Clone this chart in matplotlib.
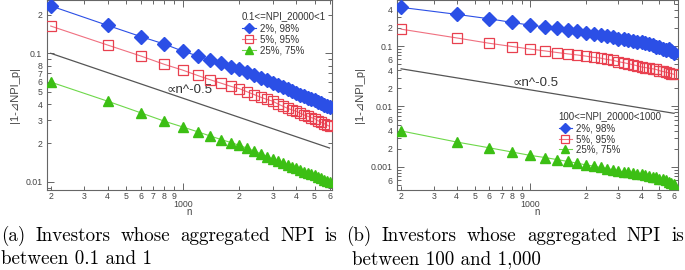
import numpy as np
import matplotlib
matplotlib.use("Agg")
import matplotlib.pyplot as plt
from matplotlib.ticker import FixedLocator, FuncFormatter

# ---------------- data ----------------
n_values = [200, 400, 600, 800, 1000, 1200, 1400, 1600, 1800, 2000,
            2200, 2400, 2600, 2800, 3000, 3200, 3400, 3600, 3800, 4000,
            4200, 4400, 4600, 4800, 5000, 5200, 5400, 5600, 5800, 6000]

left_blue = [0.234, 0.165, 0.135, 0.118, 0.104, 0.0955, 0.0887, 0.0833, 0.0788, 0.075,
             0.0709, 0.0673, 0.0643, 0.0615, 0.059, 0.0566, 0.0544, 0.0524, 0.0506, 0.049,
             0.0476, 0.0463, 0.0451, 0.044, 0.043, 0.0419, 0.0408, 0.0398, 0.0389, 0.038]
left_red = [0.163, 0.116, 0.0953, 0.082, 0.074, 0.0672, 0.0622, 0.0585, 0.0553, 0.053,
            0.0501, 0.0476, 0.0454, 0.0437, 0.0424, 0.0403, 0.0387, 0.0373, 0.0362, 0.0354,
            0.0341, 0.0331, 0.0323, 0.0316, 0.031, 0.0299, 0.0291, 0.0284, 0.0277, 0.027]
left_green = [0.0597, 0.0424, 0.0344, 0.0296, 0.0267, 0.0245, 0.0227, 0.0213, 0.0202, 0.0192,
              0.0182, 0.0173, 0.0165, 0.0157, 0.0150, 0.0145, 0.0139, 0.0134, 0.0131, 0.0128,
              0.0123, 0.0120, 0.0117, 0.0115, 0.01135, 0.0109, 0.0106, 0.0103, 0.0101, 0.0099]

right_blue = [0.436, 0.334, 0.282, 0.245, 0.221, 0.207, 0.196, 0.186, 0.176, 0.167,
              0.160, 0.153, 0.146, 0.139, 0.133, 0.129, 0.125, 0.122, 0.118, 0.115,
              0.111, 0.107, 0.102, 0.098, 0.095, 0.090, 0.087, 0.089, 0.083, 0.078]
right_red = [0.19, 0.136, 0.111, 0.098, 0.089, 0.083, 0.078, 0.074, 0.071, 0.068,
             0.065, 0.063, 0.060, 0.058, 0.055, 0.053, 0.051, 0.049, 0.047, 0.045,
             0.044, 0.043, 0.042, 0.041, 0.039, 0.038, 0.037, 0.036, 0.035, 0.034]
right_green = [0.00394, 0.00258, 0.00207, 0.00176, 0.00155, 0.00143, 0.00132, 0.00123, 0.00115, 0.00108,
               0.00103, 0.00098, 0.00094, 0.00090, 0.00086, 0.00083, 0.00081, 0.00079, 0.00077, 0.00075,
               0.00073, 0.00071, 0.00069, 0.00067, 0.00064, 0.00062, 0.00060, 0.00057, 0.00055, 0.00052]

ref_n = [200, 6000]
left_ref = [0.1, 0.0183]
right_ref = [0.042, 0.0077]

series_labels = ["2%, 98%", "5%, 95%", "25%, 75%"]
left_title = "0.1<=NPI_20000<1"
right_title = "100<=NPI_20000<1000"
ylabel_text = "|1-\u22bfNPI_p|"
xlabel_text = "n"
slope_text = "\u221dn^-0.5"
caption_a = ["(a) Investors whose aggregated NPI is", "between 0.1 and 1"]
caption_b = ["(b) Investors whose aggregated NPI is", "between 100 and 1,000"]

# ---------------- style ----------------
W, H = 685, 270
fig = plt.figure(figsize=(W / 100, H / 100), dpi=100)
SANS = ["Liberation Sans", "DejaVu Sans"]
TICKC = "#444444"
SPINEC = "#666666"
BLUE = "#2b4fe6"
RED = "#e8404f"
GREEN = "#3cbf14"


def px_axes(l, t, r, b):
    return fig.add_axes([l / W, 1 - b / H, (r - l) / W, (b - t) / H])


def minor_fmt(allowed):
    def f(v, pos):
        if v <= 0:
            return ""
        e = np.floor(np.log10(v) + 1e-9)
        m = int(round(v / 10 ** e))
        return str(m) if m in allowed else ""
    return FuncFormatter(f)


def setup(ax, xlim, ylim, ymajor, ylabels, yminor_allowed, title, lx, ly, slope_pos,
          blue, red, green, ref):
    ax.set_xscale("log")
    ax.set_yscale("log")
    ax.plot(ref_n, ref, color="#555555", lw=0.9, zorder=2)
    ax.plot(n_values, blue, color=BLUE, lw=0.8, marker="D", ms=7.0, mec=BLUE, mfc=BLUE,
            label=series_labels[0], zorder=5)
    ax.plot(n_values, red, color="#f07080", lw=0.8, marker="s", ms=7.0, mec=RED, mfc="none",
            mew=0.9, label=series_labels[1], zorder=4)
    ax.plot(n_values, green, color="#6ed84a", lw=0.8, marker="^", ms=7.3, mec=GREEN, mfc=GREEN,
            label=series_labels[2], zorder=3)
    ax.set_xlim(*xlim)
    ax.set_ylim(*ylim)

    # x ticks
    ax.xaxis.set_major_locator(FixedLocator([1000]))
    ax.xaxis.set_major_formatter(FuncFormatter(lambda v, p: "%d" % v))
    xminor = [200, 300, 400, 500, 600, 700, 800, 900, 2000, 3000, 4000, 5000, 6000]
    ax.xaxis.set_minor_locator(FixedLocator(xminor))
    ax.xaxis.set_minor_formatter(minor_fmt({2, 3, 4, 5, 6, 7, 8, 9}))
    # y ticks
    ax.yaxis.set_major_locator(FixedLocator(ymajor))
    ax.yaxis.set_major_formatter(FuncFormatter(lambda v, p: ylabels.get(round(np.log10(v)), "")))
    yminor = []
    for e in range(-5, 1):
        for m in range(2, 10):
            yminor.append(m * 10.0 ** e)
    ax.yaxis.set_minor_locator(FixedLocator(yminor))
    ax.yaxis.set_minor_formatter(minor_fmt(yminor_allowed))

    ax.tick_params(which="both", direction="in", top=True, right=True, colors=SPINEC,
                   labelcolor=TICKC, labelsize=6.3, width=0.7)
    ax.tick_params(which="major", length=5)
    ax.tick_params(which="minor", length=3)
    ax.tick_params(axis="x", which="minor", pad=1.5)
    ax.tick_params(axis="x", which="major", pad=7)
    ax.tick_params(axis="y", which="both", pad=3)
    for lab in ax.get_xticklabels(which="both") + ax.get_yticklabels(which="both"):
        lab.set_family(SANS)
    for s in ax.spines.values():
        s.set_color(SPINEC)
        s.set_linewidth(0.8)

    ax.set_xlabel(xlabel_text, fontsize=7, color=TICKC, family=SANS, labelpad=-1)
    ax.set_ylabel(ylabel_text, fontsize=8, color=TICKC, family=SANS, labelpad=4)

    leg = ax.legend(loc="upper left", bbox_to_anchor=(lx, ly), frameon=False, title=title,
                    prop={"family": SANS, "size": 7}, title_fontproperties={"family": SANS, "size": 7},
                    alignment="left", borderpad=0, borderaxespad=0, handlelength=1.4,
                    handletextpad=0.4, labelspacing=0.08, markerscale=0.8)
    leg._legend_box.sep = 1.5
    for t in leg.get_texts():
        t.set_color("#333333")
    leg.get_title().set_color("#333333")
    ax.text(slope_pos[0], slope_pos[1], slope_text, transform=ax.transAxes, fontsize=9.5,
            color="#333333", family=SANS, ha="left", va="baseline")


axL = px_axes(46.5, 0, 332, 190)
setup(axL, (190, 6185), (0.00862, 0.26), [0.01, 0.1], {-1: "0.1", -2: "0.01"},
      {2, 3, 4, 5, 6, 7, 8}, left_title, 0.685, 0.94, (0.42, 0.51),
      left_blue, left_red, left_green, left_ref)

axR = px_axes(397, 0, 678, 190)
setup(axR, (190, 6300), (0.000415, 0.577), [0.001, 0.01, 0.1],
      {-1: "0.1", -2: "0.01", -3: "0.001"}, {2, 4, 6}, right_title, 0.575, 0.415, (0.41, 0.55),
      right_blue, right_red, right_green, right_ref)

# ---------------- captions (justified first lines) ----------------
CAPF = dict(family="cmr10", fontsize=13.7, color="black")
fig.canvas.draw()
renderer = fig.canvas.get_renderer()


def justified(text, x0, x1, y):
    words = text.split(" ")
    widths = []
    for w in words:
        t = fig.text(0, 0, w, **CAPF)
        bb = t.get_window_extent(renderer)
        widths.append(bb.width)
        t.remove()
    gap = (x1 - x0 - sum(widths)) / (len(words) - 1)
    x = x0
    for w, wd in zip(words, widths):
        fig.text(x / W, 1 - y / H, w, va="baseline", ha="left", **CAPF)
        x += wd + gap


justified(caption_a[0], 1, 337, 241)
fig.text(1 / W, 1 - 264 / H, caption_a[1], va="baseline", ha="left", **CAPF)
justified(caption_b[0], 346, 684, 241)
fig.text(352 / W, 1 - 264 / H, caption_b[1], va="baseline", ha="left", **CAPF)

fig.savefig("out.png", dpi=100)
